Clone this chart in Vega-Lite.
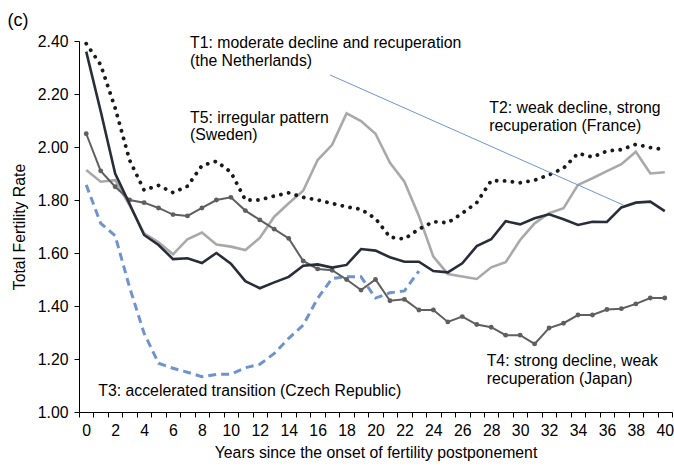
{
  "$schema": "https://vega.github.io/schema/vega-lite/v6.json",
  "width": 593,
  "height": 371,
  "autosize": "none",
  "padding": {"left": 79, "top": 41, "right": 2, "bottom": 56},
  "background": "white",
  "config": {"view": {"stroke": null}, "font": "Liberation Sans"},
  "datasets": {
    "tfr": [
      {"s":"NL","x":0,"y":2.36},{"s":"NL","x":1,"y":2.135},{"s":"NL","x":2,"y":1.9},{"s":"NL","x":3,"y":1.785},{"s":"NL","x":4,"y":1.668},{"s":"NL","x":5,"y":1.63},{"s":"NL","x":6,"y":1.577},{"s":"NL","x":7,"y":1.58},{"s":"NL","x":8,"y":1.562},{"s":"NL","x":9,"y":1.6},{"s":"NL","x":10,"y":1.56},{"s":"NL","x":11,"y":1.494},{"s":"NL","x":12,"y":1.467},{"s":"NL","x":13,"y":1.489},{"s":"NL","x":14,"y":1.51},{"s":"NL","x":15,"y":1.552},{"s":"NL","x":16,"y":1.557},{"s":"NL","x":17,"y":1.545},{"s":"NL","x":18,"y":1.555},{"s":"NL","x":19,"y":1.615},{"s":"NL","x":20,"y":1.609},{"s":"NL","x":21,"y":1.584},{"s":"NL","x":22,"y":1.567},{"s":"NL","x":23,"y":1.567},{"s":"NL","x":24,"y":1.532},{"s":"NL","x":25,"y":1.527},{"s":"NL","x":26,"y":1.561},{"s":"NL","x":27,"y":1.626},{"s":"NL","x":28,"y":1.652},{"s":"NL","x":29,"y":1.72},{"s":"NL","x":30,"y":1.708},{"s":"NL","x":31,"y":1.731},{"s":"NL","x":32,"y":1.746},{"s":"NL","x":33,"y":1.727},{"s":"NL","x":34,"y":1.706},{"s":"NL","x":35,"y":1.718},{"s":"NL","x":36,"y":1.717},{"s":"NL","x":37,"y":1.772},{"s":"NL","x":38,"y":1.79},{"s":"NL","x":39,"y":1.794},{"s":"NL","x":40,"y":1.758},
      {"s":"FR","x":0,"y":2.39},{"s":"FR","x":1,"y":2.31},{"s":"FR","x":2,"y":2.147},{"s":"FR","x":3,"y":1.95},{"s":"FR","x":4,"y":1.837},{"s":"FR","x":5,"y":1.855},{"s":"FR","x":6,"y":1.828},{"s":"FR","x":7,"y":1.852},{"s":"FR","x":8,"y":1.93},{"s":"FR","x":9,"y":1.946},{"s":"FR","x":10,"y":1.905},{"s":"FR","x":11,"y":1.8},{"s":"FR","x":12,"y":1.8},{"s":"FR","x":13,"y":1.815},{"s":"FR","x":14,"y":1.827},{"s":"FR","x":15,"y":1.81},{"s":"FR","x":16,"y":1.8},{"s":"FR","x":17,"y":1.787},{"s":"FR","x":18,"y":1.774},{"s":"FR","x":19,"y":1.765},{"s":"FR","x":20,"y":1.73},{"s":"FR","x":21,"y":1.66},{"s":"FR","x":22,"y":1.653},{"s":"FR","x":23,"y":1.69},{"s":"FR","x":24,"y":1.718},{"s":"FR","x":25,"y":1.714},{"s":"FR","x":26,"y":1.75},{"s":"FR","x":27,"y":1.79},{"s":"FR","x":28,"y":1.873},{"s":"FR","x":29,"y":1.872},{"s":"FR","x":30,"y":1.865},{"s":"FR","x":31,"y":1.875},{"s":"FR","x":32,"y":1.895},{"s":"FR","x":33,"y":1.92},{"s":"FR","x":34,"y":1.976},{"s":"FR","x":35,"y":1.962},{"s":"FR","x":36,"y":1.985},{"s":"FR","x":37,"y":1.99},{"s":"FR","x":38,"y":2.01},{"s":"FR","x":39,"y":1.998},{"s":"FR","x":40,"y":1.99},
      {"s":"JP","x":0,"y":2.05},{"s":"JP","x":1,"y":1.91},{"s":"JP","x":2,"y":1.85},{"s":"JP","x":3,"y":1.8},{"s":"JP","x":4,"y":1.79},{"s":"JP","x":5,"y":1.77},{"s":"JP","x":6,"y":1.745},{"s":"JP","x":7,"y":1.74},{"s":"JP","x":8,"y":1.77},{"s":"JP","x":9,"y":1.8},{"s":"JP","x":10,"y":1.81},{"s":"JP","x":11,"y":1.76},{"s":"JP","x":12,"y":1.725},{"s":"JP","x":13,"y":1.69},{"s":"JP","x":14,"y":1.655},{"s":"JP","x":15,"y":1.57},{"s":"JP","x":16,"y":1.54},{"s":"JP","x":17,"y":1.535},{"s":"JP","x":18,"y":1.5},{"s":"JP","x":19,"y":1.46},{"s":"JP","x":20,"y":1.5},{"s":"JP","x":21,"y":1.42},{"s":"JP","x":22,"y":1.425},{"s":"JP","x":23,"y":1.385},{"s":"JP","x":24,"y":1.385},{"s":"JP","x":25,"y":1.34},{"s":"JP","x":26,"y":1.36},{"s":"JP","x":27,"y":1.33},{"s":"JP","x":28,"y":1.32},{"s":"JP","x":29,"y":1.29},{"s":"JP","x":30,"y":1.29},{"s":"JP","x":31,"y":1.257},{"s":"JP","x":32,"y":1.317},{"s":"JP","x":33,"y":1.335},{"s":"JP","x":34,"y":1.366},{"s":"JP","x":35,"y":1.366},{"s":"JP","x":36,"y":1.387},{"s":"JP","x":37,"y":1.39},{"s":"JP","x":38,"y":1.408},{"s":"JP","x":39,"y":1.43},{"s":"JP","x":40,"y":1.43},
      {"s":"SE","x":0,"y":1.913},{"s":"SE","x":1,"y":1.869},{"s":"SE","x":2,"y":1.875},{"s":"SE","x":3,"y":1.78},{"s":"SE","x":4,"y":1.674},{"s":"SE","x":5,"y":1.64},{"s":"SE","x":6,"y":1.595},{"s":"SE","x":7,"y":1.652},{"s":"SE","x":8,"y":1.677},{"s":"SE","x":9,"y":1.632},{"s":"SE","x":10,"y":1.624},{"s":"SE","x":11,"y":1.611},{"s":"SE","x":12,"y":1.657},{"s":"SE","x":13,"y":1.737},{"s":"SE","x":14,"y":1.788},{"s":"SE","x":15,"y":1.835},{"s":"SE","x":16,"y":1.951},{"s":"SE","x":17,"y":2.008},{"s":"SE","x":18,"y":2.127},{"s":"SE","x":19,"y":2.098},{"s":"SE","x":20,"y":2.05},{"s":"SE","x":21,"y":1.94},{"s":"SE","x":22,"y":1.869},{"s":"SE","x":23,"y":1.74},{"s":"SE","x":24,"y":1.586},{"s":"SE","x":25,"y":1.521},{"s":"SE","x":26,"y":1.511},{"s":"SE","x":27,"y":1.502},{"s":"SE","x":28,"y":1.546},{"s":"SE","x":29,"y":1.565},{"s":"SE","x":30,"y":1.649},{"s":"SE","x":31,"y":1.712},{"s":"SE","x":32,"y":1.75},{"s":"SE","x":33,"y":1.769},{"s":"SE","x":34,"y":1.857},{"s":"SE","x":35,"y":1.882},{"s":"SE","x":36,"y":1.909},{"s":"SE","x":37,"y":1.935},{"s":"SE","x":38,"y":1.982},{"s":"SE","x":39,"y":1.9},{"s":"SE","x":40,"y":1.905},
      {"s":"CZ","x":0,"y":1.857},{"s":"CZ","x":1,"y":1.712},{"s":"CZ","x":2,"y":1.665},{"s":"CZ","x":3,"y":1.47},{"s":"CZ","x":4,"y":1.297},{"s":"CZ","x":5,"y":1.184},{"s":"CZ","x":6,"y":1.165},{"s":"CZ","x":7,"y":1.15},{"s":"CZ","x":8,"y":1.133},{"s":"CZ","x":9,"y":1.142},{"s":"CZ","x":10,"y":1.143},{"s":"CZ","x":11,"y":1.167},{"s":"CZ","x":12,"y":1.18},{"s":"CZ","x":13,"y":1.221},{"s":"CZ","x":14,"y":1.278},{"s":"CZ","x":15,"y":1.328},{"s":"CZ","x":16,"y":1.429},{"s":"CZ","x":17,"y":1.504},{"s":"CZ","x":18,"y":1.51},{"s":"CZ","x":19,"y":1.51},{"s":"CZ","x":20,"y":1.43},{"s":"CZ","x":21,"y":1.45},{"s":"CZ","x":22,"y":1.457},{"s":"CZ","x":23,"y":1.532}
    ],
    "notes": [
      {"t":"T1: moderate decline and recuperation","x":7.175,"y":2.394},
      {"t":"(the Netherlands)","x":7.175,"y":2.325},
      {"t":"T5: irregular pattern","x":7.175,"y":2.111},
      {"t":"(Sweden)","x":7.175,"y":2.045},
      {"t":"T2: weak decline, strong","x":27.87,"y":2.147},
      {"t":"recuperation (France)","x":27.87,"y":2.078},
      {"t":"T4: strong decline, weak","x":27.69,"y":1.1925},
      {"t":"recuperation (Japan)","x":27.69,"y":1.123},
      {"t":"T3: accelerated transition (Czech Republic)","x":0.835,"y":1.079}
    ],
    "panel": [
      {"t":"(c)","x":-5.45,"y":2.476}
    ],
    "pointer": [
      {"x":16.85,"y":2.272,"x2":37.13,"y2":1.781}
    ]
  },
  "encoding": {
    "x": {
      "field": "x", "type": "quantitative",
      "scale": {"domain": [-0.5, 40.5], "nice": false, "zero": false},
      "axis": {
        "values": [-0.5,0.5,1.5,2.5,3.5,4.5,5.5,6.5,7.5,8.5,9.5,10.5,11.5,12.5,13.5,14.5,15.5,16.5,17.5,18.5,19.5,20.5,21.5,22.5,23.5,24.5,25.5,26.5,27.5,28.5,29.5,30.5,31.5,32.5,33.5,34.5,35.5,36.5,37.5,38.5,39.5,40.5],
        "labelExpr": "(datum.value + 0.5) % 2 === 0 ? format(datum.value + 0.5, 'd') : ''",
        "labelOffset": 7.23,
        "labelFlush": false,
        "labelOverlap": false,
        "labelFontSize": 15.8,
        "labelColor": "black",
        "labelPadding": 6,
        "tickSize": 5,
        "tickColor": "black",
        "domainColor": "black",
        "grid": false,
        "title": "Years since the onset of fertility postponement",
        "titleFontSize": 15.8,
        "titleFontWeight": "normal",
        "titleColor": "black",
        "titlePadding": 8
      }
    },
    "y": {
      "field": "y", "type": "quantitative",
      "scale": {"domain": [1, 2.4], "nice": false, "zero": false},
      "axis": {
        "values": [1, 1.2, 1.4, 1.6, 1.8, 2, 2.2, 2.4],
        "format": ".2f",
        "labelFontSize": 15.8,
        "labelColor": "black",
        "labelPadding": 6,
        "tickSize": 5,
        "tickColor": "black",
        "domainColor": "black",
        "grid": false,
        "title": "Total Fertility Rate",
        "titleFontSize": 15.8,
        "titleFontWeight": "normal",
        "titleColor": "black",
        "titlePadding": 10
      }
    }
  },
  "layer": [
    {
      "data": {"name": "tfr"},
      "transform": [{"filter": "datum.s === 'SE'"}],
      "mark": {"type": "line", "color": "#a9a9a9", "strokeWidth": 2.6}
    },
    {
      "data": {"name": "tfr"},
      "transform": [{"filter": "datum.s === 'CZ'"}],
      "mark": {"type": "line", "color": "#6f94cd", "strokeWidth": 3, "strokeDash": [8, 5]}
    },
    {
      "data": {"name": "tfr"},
      "transform": [{"filter": "datum.s === 'JP'"}],
      "mark": {"type": "line", "color": "#5f5f5f", "strokeWidth": 2}
    },
    {
      "data": {"name": "tfr"},
      "transform": [{"filter": "datum.s === 'JP'"}],
      "mark": {"type": "point", "filled": true, "color": "#5f5f5f", "size": 24, "opacity": 1}
    },
    {
      "data": {"name": "tfr"},
      "transform": [{"filter": "datum.s === 'NL'"}],
      "mark": {"type": "line", "color": "#2a2c3a", "strokeWidth": 2.6}
    },
    {
      "data": {"name": "tfr"},
      "transform": [{"filter": "datum.s === 'FR'"}],
      "mark": {"type": "line", "color": "#1a1a1a", "strokeWidth": 3.8, "strokeDash": [0.1, 7.8], "strokeCap": "round"}
    },
    {
      "data": {"name": "pointer"},
      "mark": {"type": "rule", "color": "#6f96d0", "strokeWidth": 1},
      "encoding": {"x2": {"field": "x2"}, "y2": {"field": "y2"}}
    },
    {
      "data": {"name": "notes"},
      "mark": {"type": "text", "align": "left", "baseline": "middle", "fontSize": 15.8, "color": "black"},
      "encoding": {"text": {"field": "t", "type": "nominal"}}
    },
    {
      "data": {"name": "panel"},
      "mark": {"type": "text", "align": "left", "baseline": "middle", "fontSize": 18, "color": "black"},
      "encoding": {"text": {"field": "t", "type": "nominal"}}
    }
  ]
}
